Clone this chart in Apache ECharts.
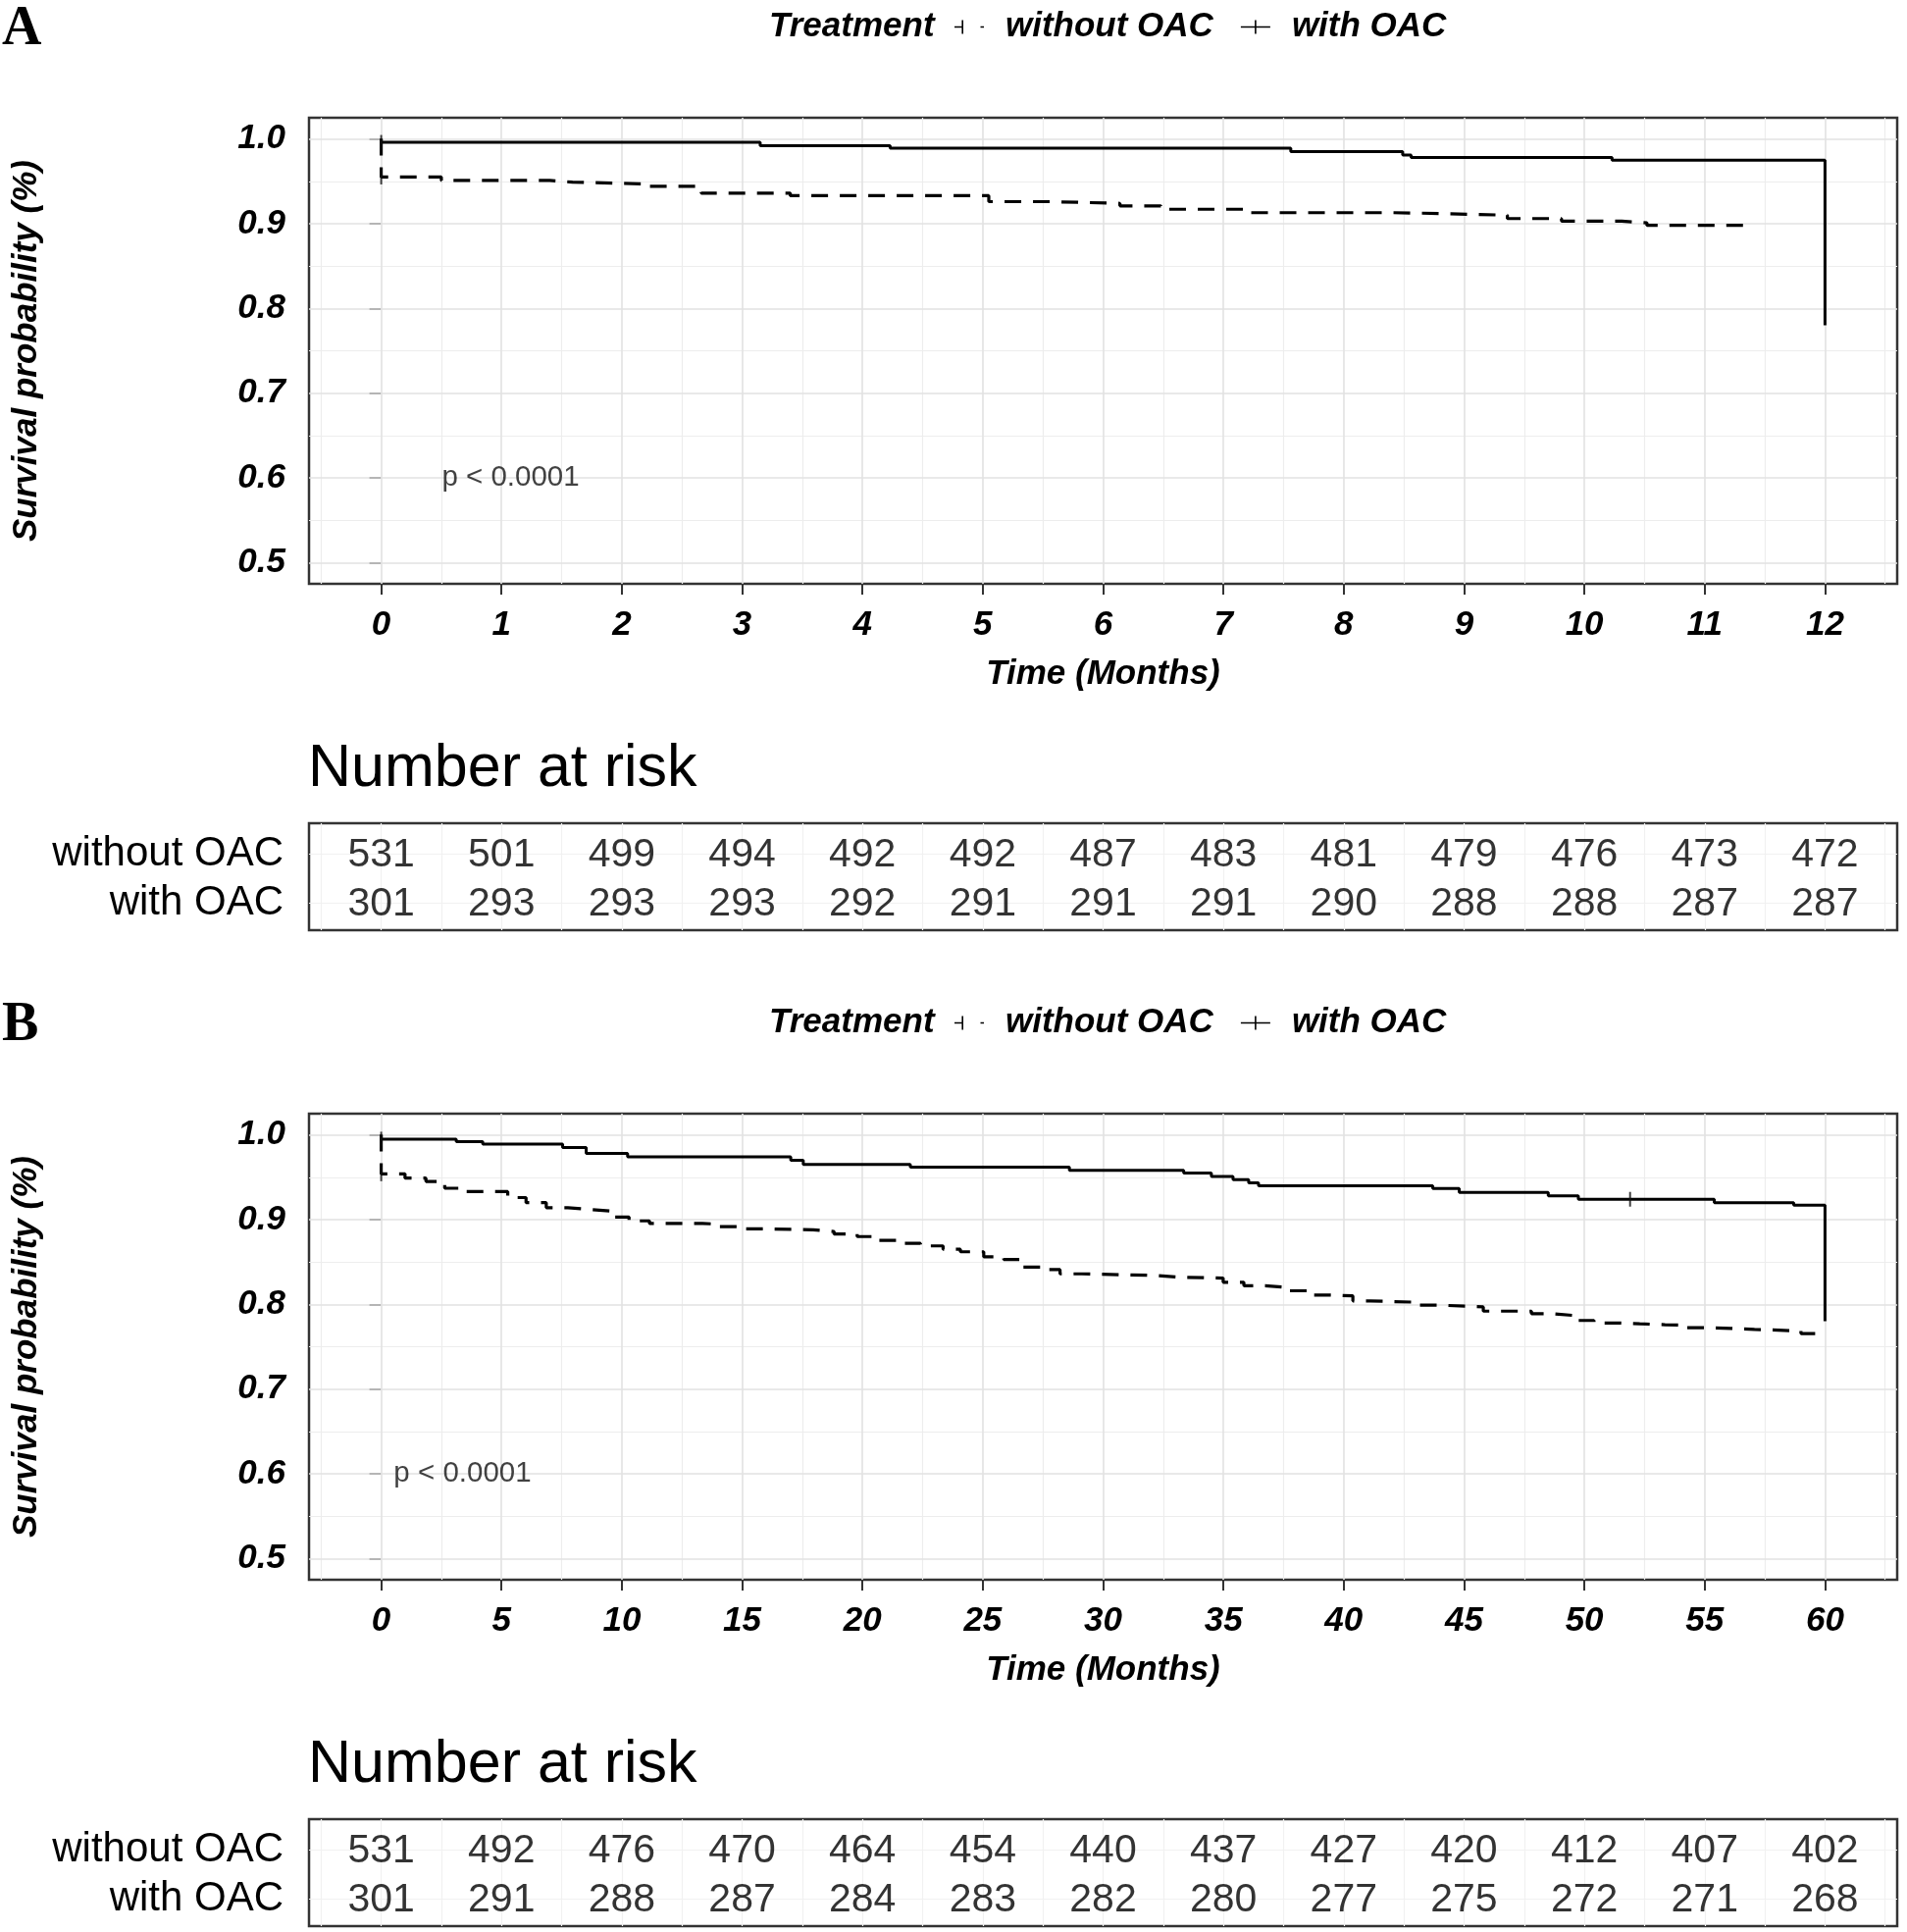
<!DOCTYPE html>
<html>
<head>
<meta charset="utf-8">
<style>
html,body{margin:0;padding:0;background:#fff;}
#chart{width:1944px;height:1969px;}
</style>
<script src="https://cdn.jsdelivr.net/npm/echarts@6/dist/echarts.min.js"></script>
</head>
<body>
<div id="chart"></div>
<script>
// ---------------- DATA ----------------
const rowNames = ['with OAC', 'without OAC'];   // y=0 -> with, y=1 -> without
const legendNames = ['without OAC', 'with OAC'];

// Panel A (12 months)
const A_xTicks = [0,1,2,3,4,5,6,7,8,9,10,11,12];
const A_yTicks = [0.5,0.6,0.7,0.8,0.9,1.0];
const A_timeWithout = [0, 0, 0.5, 1.4, 1.59, 2.18, 2.66, 3.4, 5.05, 5.56, 6.14, 6.48, 7.19, 8.41, 8.79, 9.36, 9.81, 10.31, 10.52, 11.4];
const A_survWithout = [1.0, 0.955, 0.951, 0.949, 0.947, 0.944, 0.936, 0.933, 0.926, 0.924, 0.921, 0.917, 0.913, 0.912, 0.910, 0.906, 0.903, 0.901, 0.898, 0.898];
const A_timeWith = [0, 0, 3.15, 4.23, 7.56, 8.49, 8.56, 10.23, 12.0];
const A_survWith = [1.0, 0.996, 0.992, 0.989, 0.985, 0.981, 0.978, 0.975, 0.78];
const A_censorTime = [0, 0];
const A_censorSurv = [0.996, 0.955];
const A_riskWithout = [531, 501, 499, 494, 492, 492, 487, 483, 481, 479, 476, 473, 472];
const A_riskWith = [301, 293, 293, 293, 292, 291, 291, 291, 290, 288, 288, 287, 287];

// Panel B (60 months)
const B_xTicks = [0,5,10,15,20,25,30,35,40,45,50,55,60];
const B_yTicks = [0.5,0.6,0.7,0.8,0.9,1.0];
const B_timeWithout = [0, 0, 0.99, 1.86, 2.64, 3.43, 5.26, 6.02, 6.86, 7.76, 8.66, 9.59, 10.3, 11.15, 13.35, 14.05, 15.03, 15.98, 17.95, 18.82, 19.78, 20.69, 21.42, 22.41, 23.35, 24.07, 25.04, 25.87, 26.6, 27.43, 28.21, 29.12, 31.2, 32.23, 33.13, 34.99, 35.85, 36.73, 37.68, 38.5, 39.32, 40.38, 41.1, 43.14, 44.0, 45.8, 47.8, 48.6, 49.5, 50.4, 51.4, 52.3, 53.35, 54.2, 55.1, 56.1, 57.07, 59.0, 59.7];
const B_survWithout = [1.0, 0.954, 0.949, 0.945, 0.937, 0.933, 0.926, 0.920, 0.914, 0.912, 0.910, 0.903, 0.8985, 0.8954, 0.8947, 0.8916, 0.889, 0.888, 0.886, 0.883, 0.880, 0.8754, 0.872, 0.869, 0.865, 0.862, 0.856, 0.853, 0.844, 0.841, 0.836, 0.8347, 0.834, 0.832, 0.831, 0.826, 0.822, 0.820, 0.816, 0.811, 0.810, 0.804, 0.8024, 0.799, 0.797, 0.792, 0.789, 0.787, 0.781, 0.778, 0.777, 0.776, 0.7755, 0.7724, 0.7716, 0.7705, 0.7685, 0.7655, 0.7655];
const B_timeWith = [0, 0, 3.12, 4.22, 7.54, 8.52, 10.24, 17.02, 17.54, 21.99, 28.6, 33.35, 34.5, 35.4, 36.05, 36.46, 43.7, 44.8, 48.5, 49.75, 55.4, 58.7, 60.0];
const B_survWith = [1.0, 0.995, 0.992, 0.989, 0.985, 0.978, 0.974, 0.970, 0.965, 0.962, 0.958, 0.955, 0.951, 0.947, 0.9435, 0.940, 0.9366, 0.932, 0.928, 0.924, 0.920, 0.917, 0.78];
const B_censorTime = [0, 0, 51.9];
const B_censorSurv = [0.995, 0.954, 0.924];
const B_riskWithout = [531, 492, 476, 470, 464, 454, 440, 437, 427, 420, 412, 407, 402];
const B_riskWith = [301, 291, 288, 287, 284, 283, 282, 280, 277, 275, 272, 271, 268];

const pText = 'p < 0.0001';
const pPos = [0.5, 0.6];

// ---------------- STYLE / LAYOUT ----------------
const FONT = "'Liberation Sans', Arial, Helvetica, sans-serif";
const boldIt = {fontFamily: FONT, fontWeight: 'bold', fontStyle: 'italic', fontSize: 35, color: '#000'};
const dashedIcon = 'path://M0,6.2h8v1.6h-8z M7.4,0h1.6v14h-1.6z M26.5,6.2h3.5v1.6h-3.5z';
const solidIcon = 'path://M0,6.2h30v1.6h-30z M14.2,0h1.6v14h-1.6z';

const option = {
  animation: false,
  backgroundColor: '#fff',
  title: [], legend: [], grid: [], xAxis: [], yAxis: [], series: []
};

function zip(a, b) { return a.map((v, i) => [v, b[i]]); }

function gridLines(ticks, min, max) {
  const step = ticks[1] - ticks[0];
  const minor = [];
  for (let i = -1; i < ticks.length; i++) {
    const v = i < 0 ? ticks[0] - step / 2 : ticks[i] + step / 2;
    if (v > min && v < max) minor.push(+v.toFixed(4));
  }
  return {major: ticks, minor: minor};
}

function buildPanel(p) {
  const dy = p.dy;
  const gi = option.grid.length;
  const xr = p.xTicks[p.xTicks.length - 1] - p.xTicks[0];
  const xmin = p.xTicks[0] - 0.05 * xr, xmax = p.xTicks[p.xTicks.length - 1] + 0.05 * xr;
  const ymin = 0.475, ymax = 1.025;

  option.title.push(
    {text: p.label, left: 2, top: 3 + dy, padding: 0,
     textStyle: {fontFamily: "'Liberation Serif', 'Times New Roman', serif", fontWeight: 'bold', fontSize: 56, color: '#000'}},
    {text: 'Treatment', left: 784, top: 10 + dy, padding: 0, textStyle: boldIt},
    {text: 'Number at risk', left: 314, top: 754 + dy, padding: 0,
     textStyle: {fontFamily: FONT, fontSize: 61, fontWeight: 'normal', color: '#000'}}
  );
  option.legend.push({
    left: 973, top: 10 + dy, padding: 0, orient: 'horizontal',
    itemWidth: 30, itemHeight: 14, itemGap: 28, selectedMode: false,
    data: [{name: legendNames[0], icon: dashedIcon}, {name: legendNames[1], icon: solidIcon}],
    itemStyle: {color: '#000', borderWidth: 0},
    textStyle: Object.assign({}, boldIt, {padding: [0, 0, 0, 17]})
  });

  // plot grid
  option.grid.push({left: 315, top: 120 + dy, width: 1619, height: 475, show: true,
    borderColor: '#333', borderWidth: 2.5, backgroundColor: '#fff'});
  // table grid
  option.grid.push({left: 315, top: 839 + dy, width: 1619, height: 109, show: true,
    borderColor: '#333', borderWidth: 2.5, backgroundColor: '#fff'});

  option.xAxis.push({
    gridIndex: gi, type: 'value', min: xmin, max: xmax,
    axisLine: {show: false},
    axisTick: {show: true, length: 11, lineStyle: {color: '#333', width: 2}, customValues: p.xTicks},
    axisLabel: Object.assign({customValues: p.xTicks, margin: 25}, boldIt),
    splitLine: {show: false},
    name: 'Time (Months)', nameLocation: 'middle', nameGap: 75, nameTextStyle: boldIt
  });
  option.yAxis.push({
    gridIndex: gi, type: 'value', min: ymin, max: ymax,
    axisLine: {show: false},
    axisTick: {show: true, length: 12, lineStyle: {color: '#333', width: 2}, customValues: p.yTicks},
    axisLabel: Object.assign({customValues: p.yTicks, margin: 24, formatter: v => v.toFixed(1)}, boldIt),
    splitLine: {show: false},
    name: 'Survival probability (%)', nameLocation: 'middle', nameGap: 270, nameTextStyle: boldIt
  });
  option.xAxis.push({gridIndex: gi + 1, type: 'value', min: xmin, max: xmax, show: false, splitLine: {show: false}});
  option.yAxis.push({
    gridIndex: gi + 1, type: 'value', min: -0.56, max: 1.64,
    axisLine: {show: false}, axisTick: {show: false}, splitLine: {show: false},
    axisLabel: {customValues: [0, 1], formatter: v => rowNames[Math.round(v)], margin: 26,
      fontFamily: FONT, fontSize: 42, color: '#000'}
  });

  const gx = gridLines(p.xTicks, xmin, xmax);
  const gy = gridLines(p.yTicks, ymin, ymax);
  const majorStyle = {color: '#e2e2e2', width: 1.6, type: 'solid'};
  const minorStyle = {color: '#ededed', width: 1.2, type: 'solid'};
  const plotLines = []
    .concat(gx.minor.map(v => ({xAxis: v, lineStyle: minorStyle})))
    .concat(gy.minor.map(v => ({yAxis: v, lineStyle: minorStyle})))
    .concat(gx.major.map(v => ({xAxis: v, lineStyle: majorStyle})))
    .concat(gy.major.map(v => ({yAxis: v, lineStyle: majorStyle})));
  const tabStyle = {color: '#f1f1f1', width: 1.2, type: 'solid'};
  const tableLines = []
    .concat(gx.minor.map(v => ({xAxis: v, lineStyle: tabStyle})))
    .concat(gx.major.map(v => ({xAxis: v, lineStyle: tabStyle})))
    .concat([0, 1].map(v => ({yAxis: v, lineStyle: tabStyle})));

  const markBase = {silent: true, symbol: ['none', 'none'], label: {show: false}, z: 1, animation: false};

  option.series.push(
    {name: 'grid-' + p.label, type: 'line', xAxisIndex: gi, yAxisIndex: gi, data: [],
     markLine: Object.assign({data: plotLines}, markBase)},
    {name: legendNames[0], type: 'line', xAxisIndex: gi, yAxisIndex: gi, step: 'end',
     data: zip(p.timeWithout, p.survWithout), symbol: 'none', z: 3,
     itemStyle: {color: '#000'}, lineStyle: {color: '#000', width: 3.2, type: [17, 12]}},
    {name: legendNames[1], type: 'line', xAxisIndex: gi, yAxisIndex: gi, step: 'end',
     data: zip(p.timeWith, p.survWith), symbol: 'none', z: 3,
     itemStyle: {color: '#000'}, lineStyle: {color: '#000', width: 3, type: 'solid'}},
    {name: 'censor-' + p.label, type: 'scatter', xAxisIndex: gi, yAxisIndex: gi,
     data: zip(p.censorTime, p.censorSurv), symbol: 'rect', symbolSize: [2, 15], z: 4,
     itemStyle: {color: '#111'}},
    {name: 'pval-' + p.label, type: 'scatter', xAxisIndex: gi, yAxisIndex: gi,
     data: [pPos], symbolSize: 1, itemStyle: {color: 'rgba(0,0,0,0)'}, z: 4,
     label: {show: true, position: 'right', distance: 0, formatter: pText,
       fontFamily: FONT, fontSize: 29.5, color: '#111'}},
    {name: 'risk-' + p.label, type: 'scatter', xAxisIndex: gi + 1, yAxisIndex: gi + 1,
     data: p.xTicks.map((t, i) => [t, 1, p.riskWithout[i]])
       .concat(p.xTicks.map((t, i) => [t, 0, p.riskWith[i]])),
     symbolSize: 1, itemStyle: {color: 'rgba(0,0,0,0)'}, z: 4,
     label: {show: true, position: 'inside', formatter: d => String(d.value[2]),
       fontFamily: FONT, fontSize: 41, color: '#000', offset: [0, 1]},
     markLine: Object.assign({data: tableLines}, markBase)}
  );
}

buildPanel({label: 'A', dy: 0, xTicks: A_xTicks, yTicks: A_yTicks,
  timeWithout: A_timeWithout, survWithout: A_survWithout, timeWith: A_timeWith, survWith: A_survWith,
  censorTime: A_censorTime, censorSurv: A_censorSurv, riskWithout: A_riskWithout, riskWith: A_riskWith});
buildPanel({label: 'B', dy: 1015, xTicks: B_xTicks, yTicks: B_yTicks,
  timeWithout: B_timeWithout, survWithout: B_survWithout, timeWith: B_timeWith, survWith: B_survWith,
  censorTime: B_censorTime, censorSurv: B_censorSurv, riskWithout: B_riskWithout, riskWith: B_riskWith});

const chart = echarts.init(document.getElementById('chart'), null, {renderer: 'canvas'});
chart.setOption(option);
</script>
</body>
</html>
